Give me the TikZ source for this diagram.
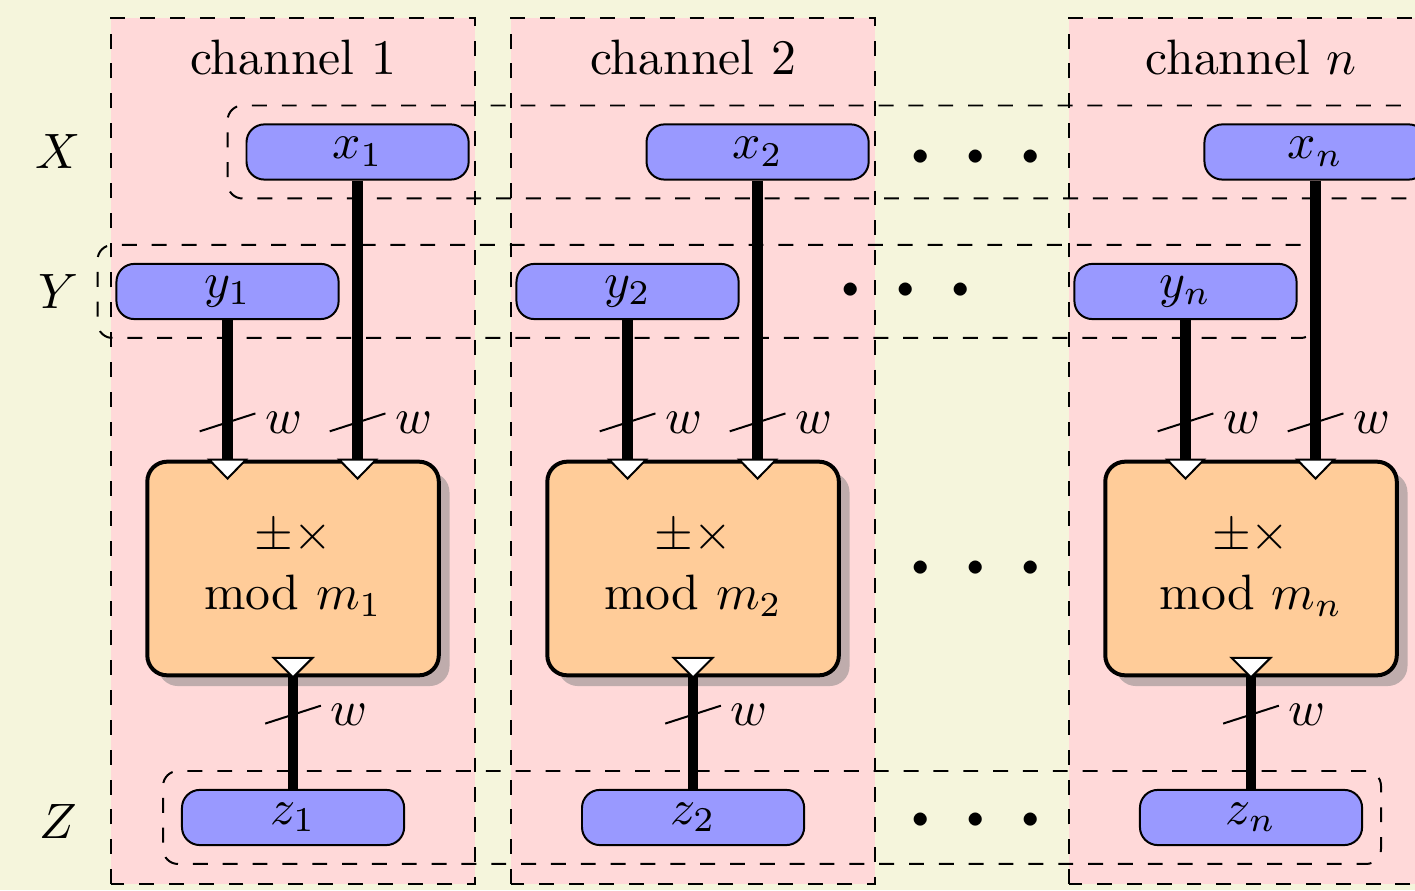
\documentclass[tikz,border=0pt]{standalone}
\usepackage{tikz}
\usetikzlibrary{shapes, shadows, positioning, calc, fit}
\definecolor{bgBeige}{RGB}{245,245,220}
\tikzstyle{regBox}=[draw=black, fill=blue!40, rounded corners=3.6pt,
  minimum width=1.57cm, minimum height=0.39cm, inner sep=0pt]
\tikzstyle{opBox}=[draw=black, thick, fill=orange!40, rounded corners=4pt,
  minimum width=2.06cm, minimum height=1.51cm, align=center, drop shadow]
\tikzstyle{bus}=[line width=2.1pt]
\tikzstyle{busSlash}=[thin]
\tikzstyle{port}=[draw=black, fill=white, thin, line join=miter]
\tikzstyle{groupBox}=[draw=black, dashed, rounded corners=3pt, inner sep=3.6pt]
\tikzstyle{channelBox}=[draw=black, dashed, fill=red!15]
\tikzstyle{dotsRow}=[font=\Huge, anchor=base, yshift=-6.2pt, inner sep=0pt]

\begin{document}
\begin{tikzpicture}
  \fill[bgBeige] (0,0) rectangle (10,6.2898);
  \useasboundingbox (0,0) rectangle (10,6.2898);
  % channels
  \foreach \c/\i in {2.071/1, 4.898/2, 8.841/n}
    \filldraw[channelBox] (\c-1.286,0.042) rectangle (\c+1.286,6.162);
  \foreach \c/\i in {2.071/1, 4.898/2, 8.841/n} {
    \node (ch\i) at (\c,5.880) {channel $\i$};
    \node[regBox] (x\i) at (\c+0.456,5.2155) {$x_\i$};
    \node[regBox] (y\i) at (\c-0.463,4.2297) {$y_\i$};
    \node[opBox] (op\i) at (\c,2.272) {$\pm\times$\\ mod $m_\i$};
    \node[regBox] (z\i) at (\c,0.5124) {$z_\i$};
  }
  \node[groupBox, fit=(x1)(xn)] (grpX) {};
  \node[groupBox, fit=(y1)(yn)] (grpY) {};
  \node[groupBox, fit=(z1)(zn)] (grpZ) {};
  \node (labX) at (0.41,5.2155) {$X$};
  \node (labY) at (0.41,4.2297) {$Y$};
  \node (labZ) at (0.41,0.4806) {$Z$};

  % buses
  \foreach \i in {1,2,n} {
    \coordinate (inA\i) at (y\i.south |- op\i.north);
    \coordinate (inB\i) at (x\i.south |- op\i.north);
    \coordinate (out\i) at (op\i.south);
    \draw[bus] (y\i) -- (inA\i);
    \draw[bus] (x\i) -- (inB\i);
    \draw[bus] (out\i) -- (z\i);
    \foreach \p/\d in {inA\i/1, inB\i/1, out\i/-1} {
      \draw[busSlash] ($(\p)+(0,\d*7.5pt)$) +(-5.6pt,-1.8pt) -- +(5.6pt,1.8pt);
      \node[anchor=west, inner sep=0pt] at ($(\p)+(7.4pt,\d*7.5pt)$) {$w$};
    }
    \foreach \p in {inA\i, inB\i}
      \filldraw[port] (\p) ++(-3.7pt,0) -- ++(7.4pt,0) -- ++(-3.7pt,-3.8pt) -- cycle;
    \filldraw[port] (out\i) ++(-3.9pt,3.9pt) -- ++(7.8pt,0) -- ++(-3.9pt,-3.9pt) -- cycle;
  }

  \node[dotsRow] (dotsX) at (6.8975,5.180) {$\cdots$};
  \node[dotsRow] (dotsY) at (6.403,4.240) {$\cdots$};
  \node[dotsRow] (dotsOp) at (6.8975,2.275) {$\cdots$};
  \node[dotsRow] (dotsZ) at (6.8975,0.495) {$\cdots$};
\end{tikzpicture}
\end{document}
